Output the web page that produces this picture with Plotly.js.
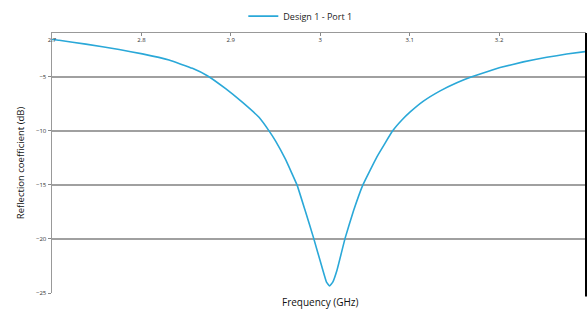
<!DOCTYPE html>
<html>
<head>
<meta charset="utf-8">
<script src="https://cdn.plot.ly/plotly-3.0.1.min.js"></script>
<style>html,body{margin:0;padding:0;background:#fff;}#chart{width:588px;height:309px;}</style>
</head>
<body>
<div id="chart"></div>
<script>
// Data
const freqGHz = [2.7000, 2.7080, 2.7378, 2.7751, 2.8011, 2.8309, 2.8570, 2.8737, 2.8942, 2.9128, 2.9315, 2.9427, 2.9501, 2.9609, 2.9740, 2.9832, 2.9925, 3.0019, 3.0070, 3.0104, 3.0140, 3.0187, 3.0279, 3.0372, 3.0477, 3.0634, 3.0810, 3.0913, 3.1006, 3.1154, 3.1341, 3.1527, 3.1695, 3.1899, 3.2011, 3.2271, 3.2533, 3.2756, 3.2961];
const s11dB   = [-1.55, -1.62, -1.98, -2.48, -2.88, -3.45, -4.22, -4.90, -6.10, -7.35, -8.75, -10.00, -10.95, -12.60, -15.00, -17.40, -19.90, -22.60, -24.00, -24.35, -24.00, -22.90, -19.90, -17.40, -15.00, -12.40, -10.00, -9.00, -8.25, -7.25, -6.30, -5.55, -5.00, -4.45, -4.15, -3.62, -3.20, -2.90, -2.67];
const seriesName = 'Design 1 - Port 1';
const xTickVals = [2.7, 2.8, 2.9, 3.0, 3.1, 3.2];
const xTickText = ['2.7', '2.8', '2.9', '3', '3.1', '3.2'];
const yTickVals = [-5, -10, -15, -20, -25];
const xTitle = 'Frequency (GHz)';
const yTitle = 'Reflection coefficient (dB)';

const trace = {
  x: freqGHz, y: s11dB, type: 'scatter', mode: 'lines', name: seriesName,
  line: {color: '#2aa8d8', width: 1.6, shape: 'spline', smoothing: 0.3}
};

const layout = {
  width: 588, height: 309,
  margin: {l: 52, r: 2, t: 30, b: 16},
  paper_bgcolor: '#ffffff', plot_bgcolor: '#ffffff',
  font: {family: 'Open Sans, DejaVu Sans, sans-serif', color: '#333'},
  showlegend: true,
  legend: {orientation: 'h', x: 0.465, xanchor: 'center', y: 1.065, yanchor: 'middle',
           font: {size: 9, color: '#222'}, bgcolor: 'rgba(0,0,0,0)'},
  xaxis: {
    range: [2.7, 3.2972], side: 'top', tickvals: xTickVals, ticktext: xTickText,
    ticklabelposition: 'inside', ticklabeloverflow: 'allow', ticks: 'inside', ticklen: 3, tickcolor: '#888',
    tickfont: {size: 6, color: '#333'}, showgrid: false, zeroline: false,
    showline: true, linecolor: '#999', linewidth: 1.5
  },
  yaxis: {
    range: [-25, -0.95], tickvals: yTickVals, ticks: 'outside', ticklen: 3, tickcolor: '#888',
    tickfont: {size: 6, color: '#333'}, showgrid: true, gridcolor: '#a0a0a0', gridwidth: 1.5,
    zeroline: false, showline: true, linecolor: '#999', linewidth: 1.5,
    title: {text: yTitle, font: {size: 9.5, color: '#111'}, standoff: 9}
  },
  shapes: [
    {type: 'line', xref: 'paper', yref: 'paper', x0: 1, x1: 1, y0: -0.013, y1: 1,
     line: {color: '#000', width: 2}}
  ],
  annotations: [
    {text: xTitle, xref: 'paper', yref: 'paper', x: 0.503, y: -0.034, xanchor: 'center', yanchor: 'middle',
     showarrow: false, font: {size: 10, color: '#111'}}
  ]
};

Plotly.newPlot('chart', [trace], layout, {displayModeBar: false, staticPlot: true});
</script>
</body>
</html>
